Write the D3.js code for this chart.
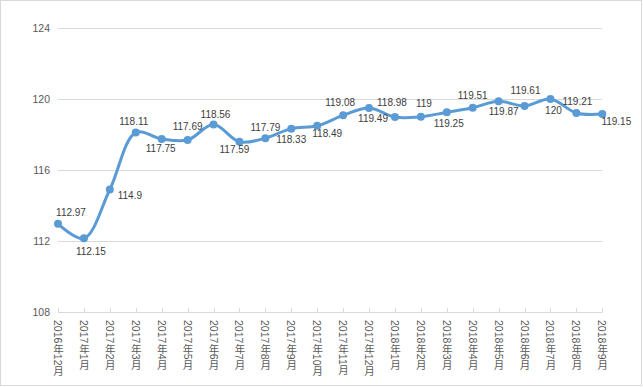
<!DOCTYPE html>
<html><head><meta charset="utf-8">
<script src="https://cdn.jsdelivr.net/npm/d3@7"></script>
<style>
html,body{margin:0;padding:0;background:#fff;}
svg{display:block;}
</style></head>
<body>
<svg id="chart" width="643" height="387"></svg>
<script>
const categories = ["2016年12月","2017年1月","2017年2月","2017年3月","2017年4月","2017年5月","2017年6月","2017年7月","2017年8月","2017年9月","2017年10月","2017年11月","2017年12月","2018年1月","2018年2月","2018年3月","2018年4月","2018年5月","2018年6月","2018年7月","2018年8月","2018年9月"];
const values = [112.97,112.15,114.9,118.11,117.75,117.69,118.56,117.59,117.79,118.33,118.49,119.08,119.49,118.98,119,119.25,119.51,119.87,119.61,120,119.21,119.15];
const yTicks = [108,112,116,120,124];
// label placement offsets (layout only)
const labelDx = [13,7,20,-2,-1,0,2,-5,0,0,10,-3,4,-3,3,2,0,5,1,3,1,14];
const labelDy = [-11.5,13,6,-11,10,-14,-10,8,-10.5,11,8,-13,10,-15,-13,11,-12,10,-15,11,-12,7];

const svg = d3.select("#chart");
svg.append("rect").attr("x",0.5).attr("y",0.5).attr("width",641).attr("height",385)
  .attr("fill","#fff").attr("stroke","#d9d9d9");

const x = d3.scalePoint().domain(categories).range([58,602.3]);
const y = d3.scaleLinear().domain([108,124]).range([312,28]);

// gridlines
svg.append("g").selectAll("line").data(yTicks).join("line")
  .attr("x1",58).attr("x2",602.3)
  .attr("y1",d=>Math.round(y(d))+0.5).attr("y2",d=>Math.round(y(d))+0.5)
  .attr("stroke","#d9d9d9").attr("stroke-width",1);

// y labels
svg.append("g").selectAll("text").data(yTicks).join("text")
  .attr("x",50).attr("y",d=>y(d)).attr("dy","0.35em")
  .attr("text-anchor","end")
  .attr("font-family","'Liberation Sans', Arial, sans-serif").attr("font-size","10.5px")
  .attr("fill","#595959").text(d=>d);

// x ticks (inward)
svg.append("g").selectAll("line").data(categories).join("line")
  .attr("x1",d=>Math.round(x(d))+0.5).attr("x2",d=>Math.round(x(d))+0.5)
  .attr("y1",308).attr("y2",312.5)
  .attr("stroke","#d9d9d9");

// x labels vertical
svg.append("g").selectAll("text").data(categories).join("text")
  .attr("x",d=>x(d)).attr("y",320)
  .attr("style","writing-mode: vertical-rl; text-orientation: mixed;")
  .attr("font-family","'Liberation Sans', 'Noto Sans CJK SC', sans-serif").attr("font-size","10.5px")
  .attr("fill","#595959").text(d=>d);

// line
const line = d3.line().x((d,i)=>x(categories[i])).y(d=>y(d)).curve(d3.curveCatmullRom.alpha(0.5));
svg.append("path").datum(values).attr("d",line)
  .attr("fill","none").attr("stroke","#5B9BD5").attr("stroke-width",3).attr("stroke-linejoin","round").attr("stroke-linecap","round");

svg.append("g").selectAll("circle").data(values).join("circle")
  .attr("cx",(d,i)=>x(categories[i])).attr("cy",d=>y(d)).attr("r",4)
  .attr("fill","#5B9BD5");

// data labels
svg.append("g").selectAll("text").data(values).join("text")
  .attr("x",(d,i)=>x(categories[i])+labelDx[i]).attr("y",(d,i)=>y(d)+labelDy[i]).attr("dy","0.35em")
  .attr("text-anchor","middle")
  .attr("font-family","'Liberation Sans', Arial, sans-serif").attr("font-size","10px")
  .attr("fill","#404040").text(d=>d);
</script>
</body></html>
